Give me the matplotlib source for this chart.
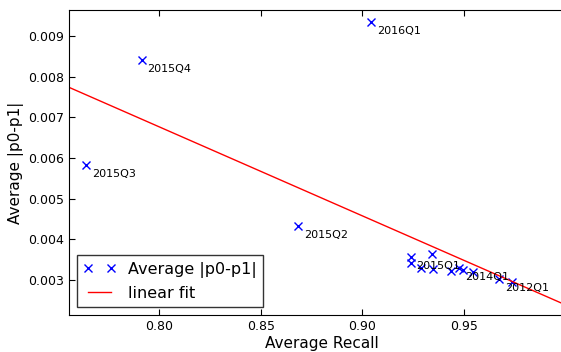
import numpy as np
import matplotlib
matplotlib.use("Agg")
import matplotlib.pyplot as plt

recall = [0.9043, 0.7916, 0.7641, 0.8684, 0.9238, 0.9238, 0.9341, 0.9287, 0.9349,
          0.9435, 0.9477, 0.9497, 0.9546, 0.9674, 0.9735]
avg_diff = [0.009344, 0.008410, 0.005828, 0.004328, 0.003573, 0.003411, 0.003632, 0.003288,
            0.003270, 0.003225, 0.003302, 0.003246, 0.003204, 0.003025, 0.002958]
labels = ["2016Q1", "2015Q4", "2015Q3", "2015Q2", "2015Q1", "", "", "", "",
          "", "2014Q1", "", "", "2012Q1", ""]

fig = plt.figure(figsize=(5.61, 3.52), dpi=100)
ax = fig.add_axes([69/561, 37/352, (575-69)/561, 305/352])

ax.plot(recall, avg_diff, 'x', color='blue', markersize=6, mew=1.0, label='Average |p0-p1|')
coef = np.polyfit(recall, avg_diff, 1)
xs = np.array([0.7557, 1.01])
ax.plot(xs, np.polyval(coef, xs), '-', color='red', lw=1.0, label='linear fit')

for x, y, t in zip(recall, avg_diff, labels):
    if t:
        ax.annotate(t, (x, y), xytext=(4, -6.5), textcoords='offset points', fontsize=8, va='center')

x0 = 0.7557
x1 = x0 + (0.95 - 0.80) / 305 * (575 - 69)
ax.set_xlim(x0, x1)
ax.set_ylim(0.002139, 0.009639)
ax.set_xticks([0.80, 0.85, 0.90, 0.95])
ax.set_yticks([0.003, 0.004, 0.005, 0.006, 0.007, 0.008, 0.009])
ax.tick_params(direction='in', top=True, right=True, labelsize=9, length=4)
ax.set_xlabel('Average Recall', fontsize=11, labelpad=2)
ax.set_ylabel('Average |p0-p1|', fontsize=11, labelpad=3)
ax.legend(loc='lower left', numpoints=2, fontsize=11.5, fancybox=False, framealpha=1,
          edgecolor='#333333', borderaxespad=0.5, handlelength=2.0, borderpad=0.4)
fig.savefig('out.png', dpi=100)
